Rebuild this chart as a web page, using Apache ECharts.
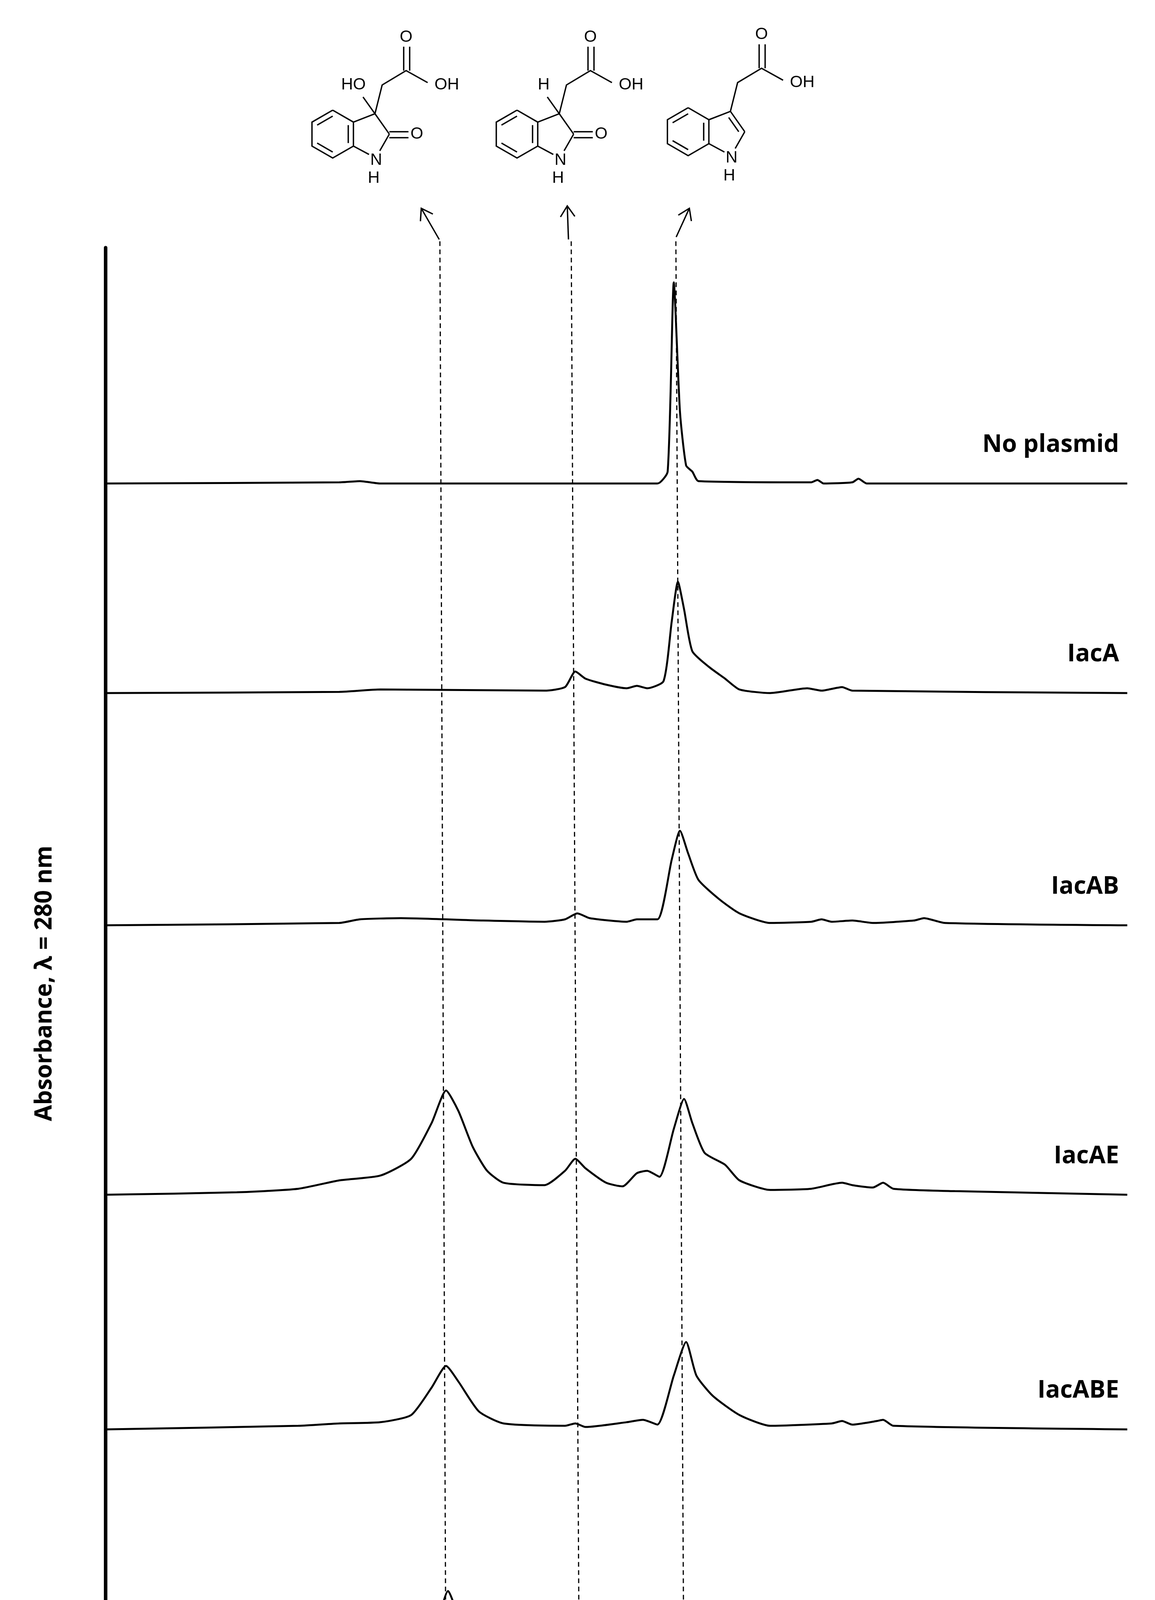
<!DOCTYPE html>
<html>
<head>
<meta charset="utf-8">
<script src="https://cdn.jsdelivr.net/npm/echarts@6/dist/echarts.min.js"></script>
<style>html,body{margin:0;background:#fff}#c{width:2958px;height:4744px}</style>
</head>
<body>
<div id="c"></div>
<script>
// 数据: [retention time, signal above the trace's own baseline]
var traceNames = ['No plasmid', 'IacA', 'IacAB', 'IacAE', 'IacABE', 'Purified DOAA'];
var baselines = [1032, 857, 663, 438, 242, 4];
var noPlasmid = [[2.86,0],[4.0,1],[4.1,2],[4.2,0],[5.55,0],[5.6,10],[5.63,168],[5.66,60],[5.69,15],[5.72,10],[5.75,2],[6.3,1],[6.33,3],[6.36,0],[6.5,1],[6.53,4],[6.57,0],[7.84,0]];
var iacA = [[2.86,0],[4.0,1],[4.2,3],[5.0,2],[5.1,5],[5.15,18],[5.2,12],[5.3,7],[5.4,4],[5.45,6],[5.5,4],[5.58,10],[5.62,60],[5.65,93],[5.68,70],[5.72,35],[5.8,22],[5.88,12],[5.95,3],[6.1,0],[6.28,4],[6.35,2],[6.45,5],[6.5,2],[7.84,0]];
var iacAB = [[2.86,0],[4.0,2],[4.1,5],[4.3,6],[4.7,4],[5.0,3],[5.1,5],[5.16,10],[5.22,6],[5.4,3],[5.45,5],[5.55,5],[5.62,55],[5.66,79],[5.7,60],[5.75,38],[5.85,22],[5.95,10],[6.1,2],[6.3,3],[6.35,5],[6.4,3],[6.5,4],[6.6,2],[6.8,4],[6.85,6],[6.95,2],[7.84,0]];
var iacAE = [[2.86,0],[3.5,2],[3.8,5],[4.0,12],[4.2,16],[4.35,30],[4.45,60],[4.52,87],[4.58,70],[4.65,40],[4.72,20],[4.8,10],[5.0,8],[5.1,20],[5.15,30],[5.2,22],[5.3,10],[5.38,7],[5.45,18],[5.5,20],[5.56,15],[5.63,55],[5.68,80],[5.72,60],[5.78,35],[5.88,25],[5.95,12],[6.1,4],[6.3,5],[6.45,10],[6.5,8],[6.6,6],[6.65,10],[6.7,5],[7.0,3],[7.84,0]];
var iacABE = [[2.86,0],[3.8,3],[4.0,5],[4.2,6],[4.35,12],[4.45,35],[4.52,53],[4.58,40],[4.68,15],[4.8,5],[5.1,3],[5.15,5],[5.2,2],[5.4,6],[5.48,8],[5.55,4],[5.63,45],[5.69,73],[5.74,45],[5.82,28],[5.95,12],[6.1,3],[6.4,5],[6.45,7],[6.5,4],[6.62,7],[6.65,8],[6.7,3],[7.84,0]];
var doaa = [[2.86,0],[3.8,2],[4.1,5],[4.3,4],[4.4,20],[4.47,70],[4.53,103],[4.58,80],[4.63,35],[4.7,8],[4.8,3],[5.0,2],[7.84,0]];
var traces = [noPlasmid, iacA, iacAB, iacAE, iacABE, doaa];
var xTicks = [3, 4, 5, 6, 7];
// dashed guide lines: [time at bottom, time at top]
var guides = [[4.52, 4.49], [5.17, 5.13], [5.68, 5.64]];

var S = 3.065;
var chart = echarts.init(document.getElementById('c'));
var series = [];
traces.forEach(function (t, i) {
	series.push({
		type: 'line', smooth: 0.2, symbol: 'none', silent: true,
		lineStyle: { color: '#000', width: 5 },
		data: t.map(function (p) { return [p[0], p[1] + baselines[i]]; })
	});
});
guides.forEach(function (g) {
	series.push({
		type: 'line', symbol: 'none', clip: false, silent: true,
		lineStyle: { color: '#000', width: 3, type: [12, 9] },
		data: [[g[0], 4], [g[1], 1236]]
	});
});
chart.setOption({
	animation: false,
	grid: { left: 270, right: 71, top: 634, bottom: 343 },
	xAxis: {
		type: 'value', min: 2.86, max: 7.84,
		name: 'Retention time, min', nameLocation: 'middle', nameGap: 230,
		nameTextStyle: { fontFamily: 'Open Sans', fontWeight: 'bold', fontSize: 60, color: '#000' },
		axisLine: { lineStyle: { color: '#000', width: 9 } },
		axisTick: { customValues: xTicks, length: 22, lineStyle: { color: '#000', width: 5 } },
		axisLabel: { customValues: xTicks, margin: 30, fontFamily: 'Open Sans', fontWeight: 'bold', fontSize: 52, color: '#000' },
		splitLine: { show: false }
	},
	yAxis: {
		type: 'value', min: 0, max: 1229,
		name: 'Absorbance, λ = 280 nm', nameLocation: 'middle', nameGap: 125,
		nameTextStyle: { fontFamily: 'Open Sans', fontWeight: 'bold', fontSize: 60, color: '#000' },
		axisLine: { show: true, lineStyle: { color: '#000', width: 9 } },
		axisTick: { show: false }, axisLabel: { show: false }, splitLine: { show: false }
	},
	series: series
});

// trace labels and molecule sketches
var g = [];
traceNames.forEach(function (n, i) {
	var p = chart.convertToPixel({ gridIndex: 0 }, [7.8, baselines[i] + 22]);
	g.push({ type: 'text', x: 2866, y: p[1], style: { text: n, fontFamily: 'Open Sans', fontWeight: 'bold', fontSize: 62, fill: '#000', align: 'right', verticalAlign: 'bottom' } });
});
function L(pts) { return { type: 'polyline', shape: { points: pts.map(function (q) { return [q[0] * S, q[1] * S]; }) }, style: { stroke: '#000', lineWidth: 3.5, fill: null } }; }
function T(x, y, s) { return { type: 'text', x: x * S, y: y * S, style: { text: s, fontFamily: 'Arial', fontSize: 42, fill: '#000', align: 'center', verticalAlign: 'middle' } }; }
function mol(cx, cy, kind) {
	var r = 20, k, v = [];
	for (k = 0; k < 6; k++) { var a = (90 + 60 * k) * Math.PI / 180; v.push([cx + r * Math.cos(a), cy - r * Math.sin(a)]); }
	g.push(L(v.concat([v[0]])));
	[[0, 1], [2, 3], [4, 5]].forEach(function (e) {
		var p = v[e[0]], q = v[e[1]], f = 0.75;
		g.push(L([[cx + (p[0] - cx) * f, cy + (p[1] - cy) * f], [cx + (q[0] - cx) * f, cy + (q[1] - cy) * f]]));
	});
	var A = v[5], B = v[4];
	var C3 = [A[0] + 18, A[1] - 7], C2 = [A[0] + 30, cy], N = [B[0] + 18, B[1] + 7];
	g.push(L([A, C3, C2]));
	g.push(L([B, [N[0] - 5, N[1]]]));
	g.push(L([C2, [N[0] + 4, N[1] - 3]]));
	if (kind === 'iaa') {
		var rc = [(A[0] + C3[0] + C2[0] + N[0] + B[0]) / 5, (A[1] + C3[1] + C2[1] + N[1] + B[1]) / 5], f2 = 0.7;
		g.push(L([[rc[0] + (C3[0] - rc[0]) * f2, rc[1] + (C3[1] - rc[1]) * f2], [rc[0] + (C2[0] - rc[0]) * f2, rc[1] + (C2[1] - rc[1]) * f2]]));
	} else { g.push(L([[C2[0], C2[1] - 2], [C2[0] + 16, C2[1] - 2]])); g.push(L([[C2[0], C2[1] + 3], [C2[0] + 16, C2[1] + 3]])); g.push(T(C2[0] + 23, C2[1], 'O')); }
	g.push(T(N[0] + 1, N[1] + 5, 'N')); g.push(T(N[0] - 1, N[1] + 20, 'H'));
	var a1 = [C3[0] + 6, C3[1] - 24], a2 = [a1[0] + 20, a1[1] - 12], o1 = [a2[0] + 18, a2[1] + 10];
	g.push(L([C3, a1, a2, o1]));
	g.push(L([[a2[0] - 2, a2[1]], [a2[0] - 2, a2[1] - 20]])); g.push(L([[a2[0] + 3, a2[1]], [a2[0] + 3, a2[1] - 20]]));
	g.push(T(a2[0], a2[1] - 28, 'O')); g.push(T(o1[0] + 16, o1[1] + 2, 'OH'));
	if (kind === 'hoa') { g.push(L([C3, [C3[0] - 10, C3[1] - 14]])); g.push(T(C3[0] - 18, C3[1] - 24, 'HO')); }
	if (kind === 'oxi') { g.push(L([C3, [C3[0] - 10, C3[1] - 14]])); g.push(T(C3[0] - 13, C3[1] - 24, 'H')); }
}
mol(278, 112, 'hoa');
mol(432, 112, 'oxi');
mol(575, 110, 'iaa');
[[367, 200, 352, 174], [475, 200, 474, 172], [565, 198, 576, 174]].forEach(function (a) {
	g.push(L([[a[0], a[1]], [a[2], a[3]]]));
	var dx = a[2] - a[0], dy = a[3] - a[1], len = Math.sqrt(dx * dx + dy * dy), ux = dx / len, uy = dy / len;
	g.push(L([[a[2] - ux * 9 - uy * 6, a[3] - uy * 9 + ux * 6], [a[2], a[3]], [a[2] - ux * 9 + uy * 6, a[3] - uy * 9 - ux * 6]]));
});
chart.setOption({ graphic: g });
</script>
</body>
</html>
